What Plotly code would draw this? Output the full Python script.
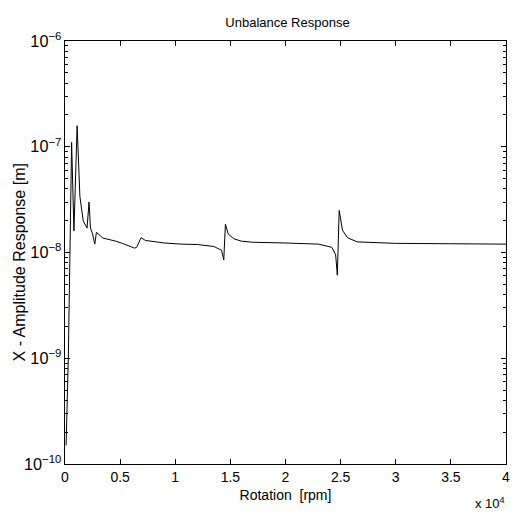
import plotly.graph_objects as go

rpm = [100, 300, 450, 600, 810, 1100, 1350, 1650, 2000, 2180, 2310, 2500, 2700, 2850,
       3440, 4000, 4600, 5200, 5800, 6300, 6500, 6900, 7300, 8000, 9000, 10600,
       12000, 13500, 14200, 14400, 14550, 14800, 15300, 16000, 17000, 20000, 23000,
       24200, 24550, 24700, 24870, 25170, 25620, 26500, 27900, 30000, 35000, 40000]
amp = [1.5e-10, 1.0e-9, 1.0e-8, 1.1e-7, 1.6e-8, 1.58e-7, 3.4e-8, 2.0e-8, 1.7e-8, 3.0e-8,
       1.7e-8, 1.5e-8, 1.2e-8, 1.55e-8,
       1.37e-8, 1.33e-8, 1.28e-8, 1.22e-8, 1.16e-8, 1.1e-8, 1.12e-8, 1.38e-8, 1.3e-8, 1.27e-8,
       1.23e-8, 1.2e-8,
       1.19e-8, 1.14e-8, 1.05e-8, 8.5e-9, 1.85e-8, 1.5e-8, 1.35e-8, 1.28e-8, 1.25e-8, 1.23e-8,
       1.2e-8,
       1.12e-8, 9.5e-9, 6.1e-9, 2.5e-8, 1.62e-8, 1.38e-8, 1.26e-8, 1.24e-8, 1.22e-8, 1.21e-8, 1.2e-8]

x_tickvals = [0, 5000, 10000, 15000, 20000, 25000, 30000, 35000, 40000]
x_ticktext = ["0", "0.5", "1", "1.5", "2", "2.5", "3", "3.5", "4"]

FONT = "Liberation Sans, Arial, Helvetica, sans-serif"

W, H = 514, 515
L, R, T, B = 65, 4, 41, 51
PW, PH = W - L - R, H - T - B

fig = go.Figure()
fig.add_trace(go.Scatter(x=rpm, y=amp, mode="lines",
                         line=dict(color="black", width=1)))

fig.update_layout(
    width=W, height=H,
    margin=dict(l=L, r=R, t=T, b=B),
    paper_bgcolor="white", plot_bgcolor="white",
    showlegend=False,
    font=dict(family=FONT, size=13, color="black"),
    title=dict(text="Unbalance Response", x=(L + PW / 2) / W, xanchor="center",
               y=1 - 22 / H, yanchor="middle", font=dict(size=13)),
)
fig.update_xaxes(
    range=[0, 40000], tickvals=x_tickvals, ticktext=x_ticktext,
    ticks="inside", ticklen=5, tickcolor="black", tickwidth=1,
    showline=True, linecolor="black", linewidth=1, mirror="ticks",
    showgrid=False, zeroline=False, ticklabeloverflow="allow",
    title=dict(text="Rotation  [rpm]", standoff=6, font=dict(size=14)),
    tickfont=dict(size=14),
)
fig.update_yaxes(
    type="log", range=[-10, -6], dtick=1, exponentformat="power",
    ticks="inside", ticklen=5, tickcolor="black", tickwidth=1,
    minor=dict(ticks="inside", ticklen=3, tickcolor="black", dtick="D1",
               showgrid=False),
    showline=True, linecolor="black", linewidth=1, mirror="ticks",
    showgrid=False, zeroline=False,
    tickfont=dict(size=13),
)
# y-axis title
fig.add_annotation(text="X - Amplitude Response [m]", xref="paper", yref="paper",
                   x=(19 - L) / PW, y=(H - B - 262) / PH, xanchor="center",
                   yanchor="middle", textangle=-90, showarrow=False,
                   font=dict(size=16))
# exponent multiplier
fig.add_annotation(text="x 10<sup>4</sup>", xref="paper", yref="paper",
                   x=(511 - L) / PW, y=(H - B - 513) / PH, xanchor="right",
                   yanchor="bottom", showarrow=False, font=dict(size=13))

fig.write_html("out.html",
               config={"displayModeBar": False},
               post_script=["document.body.style.margin='0';"
                            "document.body.style.overflow='hidden';"])
